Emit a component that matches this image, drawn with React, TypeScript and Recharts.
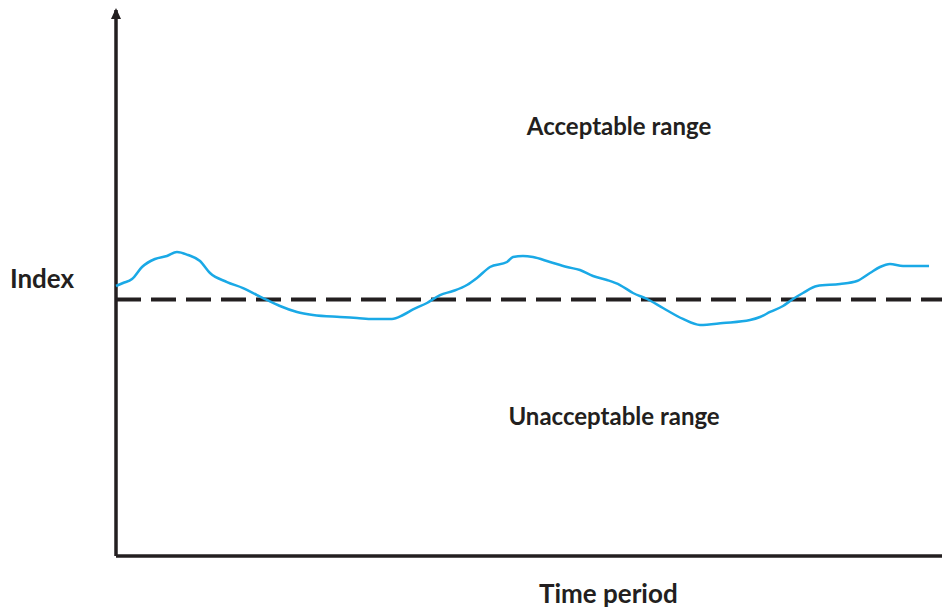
import React from 'react';
import { LineChart, Line, XAxis, YAxis, ReferenceLine, ReferenceDot } from 'recharts';

const timeValues = [0, 0.85, 1.94, 3.15, 4.72, 6.17, 7.38, 8.72, 10.17, 11.38, 13.44, 15.38, 17.07, 18.28, 19.85, 21.91, 23.85, 27.12, 29.18, 31.11, 33.41, 34.75, 35.96, 37.65, 39.23, 40.8, 42.49, 43.7, 45.28, 47.34, 48.06, 49.27, 50.48, 52.54, 54.6, 56.17, 57.75, 59.44, 61.02, 62.59, 64.29, 66.22, 68.64, 70.7, 73.49, 76.76, 77.97, 79.18, 80.75, 81.96, 83.17, 84.87, 87.65, 89.71, 91.28, 92.49, 93.7, 95.28, 98.43];
const indexValues = [49.45, 50.0, 50.73, 52.93, 54.4, 54.95, 55.68, 55.13, 54.03, 51.83, 50.18, 49.08, 47.8, 46.89, 45.79, 44.69, 44.14, 43.77, 43.59, 43.41, 43.41, 44.14, 45.15, 46.34, 47.8, 48.53, 49.63, 50.92, 52.93, 53.85, 54.76, 54.95, 54.76, 53.85, 52.93, 52.38, 51.28, 50.55, 49.63, 48.17, 47.07, 45.42, 43.41, 42.31, 42.67, 43.22, 43.77, 44.69, 45.79, 47.07, 48.17, 49.45, 49.82, 50.37, 51.83, 52.93, 53.48, 53.11, 53.11];
const thresholdValue = 47;

const labelTexts = ['Acceptable range', 'Unacceptable range', 'Index', 'Time period'];
const labelX = [60.9, 60.3, -8.96, 59.6];
const labelY = [77.1, 24.0, 49.1, -8.6];
const labelSizes = [24, 24, 26, 26];

const data = timeValues.map((t, i) => ({ t, v: indexValues[i] }));

const INK = '#231f20';
const FONT = 'Lato, "Open Sans", sans-serif';

const textShape = (txt: string, size: number) => (p: any) => (
  <text x={p.cx} y={p.cy} textAnchor="middle" fontFamily={FONT} fontWeight={700} fontSize={size} fill={INK}>
    {txt}
  </text>
);

const arrowShape = (p: any) => (
  <polygon
    points={`${p.cx},${p.cy - 2} ${p.cx - 5},${p.cy + 9} ${p.cx + 5},${p.cy + 9}`}
    fill={INK}
  />
);

export default function App() {
  return (
    <div style={{ position: 'absolute', left: 0, top: 0, width: 942, height: 611, background: '#fff' }}>
      <LineChart width={942} height={611} data={data} margin={{ top: 10, right: 0, left: 116, bottom: 55 }}>
        <XAxis dataKey="t" type="number" domain={[0, 100]} hide />
        <YAxis type="number" domain={[0, 100]} hide />
        <ReferenceLine x={0} stroke={INK} strokeWidth={3.5} />
        <ReferenceLine y={0} stroke={INK} strokeWidth={3.5} />
        <ReferenceLine y={thresholdValue} stroke={INK} strokeWidth={4} strokeDasharray="25 10" />
        <Line
          type="monotone"
          dataKey="v"
          stroke="#1aa9e6"
          strokeWidth={2.5}
          dot={false}
          isAnimationActive={false}
        />
        <ReferenceDot x={0} y={100} r={5} ifOverflow="visible" shape={arrowShape} />
        {labelTexts.map((txt, i) => (
          <ReferenceDot key={txt} x={labelX[i]} y={labelY[i]} r={1} ifOverflow="visible" shape={textShape(txt, labelSizes[i])} />
        ))}
      </LineChart>
    </div>
  );
}
